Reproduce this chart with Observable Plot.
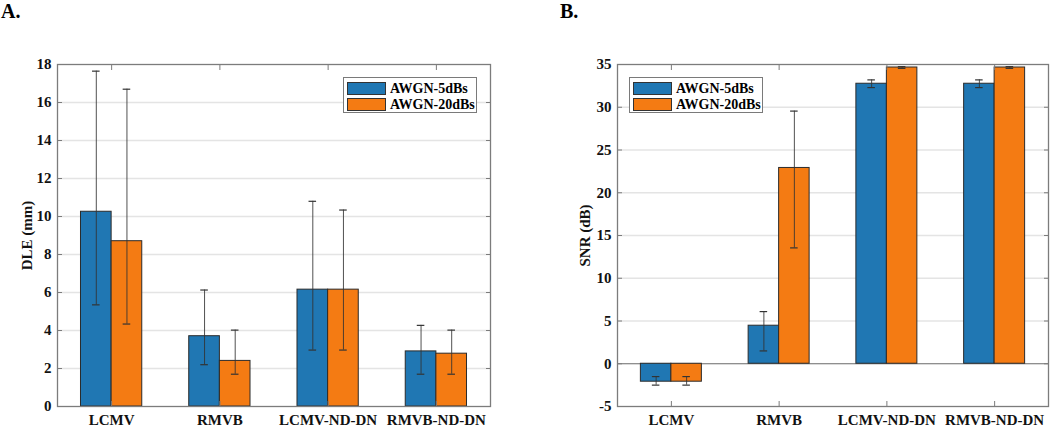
<!DOCTYPE html>
<html>
<head>
<meta charset="utf-8">
<script src="https://cdn.jsdelivr.net/npm/d3@7"></script>
<script src="https://cdn.jsdelivr.net/npm/@observablehq/plot@0.6"></script>
<style>
  body { margin: 0; background: #fff; }
  #wrap { position: relative; width: 1050px; height: 427px; font-family: "Liberation Serif", "Times New Roman", serif; font-weight: bold; }
  .panel { position: absolute; top: 0; }
  .head { position: absolute; top: 0px; font-size: 20px; line-height: 22px; font-weight: bold; }
  .legend { position: absolute; background: #fff; border: 1px solid #7a7a7a; box-sizing: border-box; padding: 2px 3px; font-size: 14px; white-space: nowrap; }
  .legend .row { display: flex; align-items: center; height: 15px; margin: 1px 0; }
  .legend .sw { width: 39px; height: 13px; border: 1px solid #333; box-sizing: border-box; margin-right: 4px; flex: none; }
</style>
</head>
<body>
<div id="wrap"></div>
<script>
const categories = ["LCMV", "RMVB", "LCMV-ND-DN", "RMVB-ND-DN"];
const series = ["AWGN-5dBs", "AWGN-20dBs"];
const colors = ["#2077b3", "#f47b13"];

// Panel A: DLE (mm)
const dleMean5  = [10.25, 3.70, 6.15, 2.90];
const dleLow5   = [5.35, 2.20, 2.97, 1.70];
const dleHigh5  = [17.65, 6.13, 10.80, 4.27];
const dleMean20 = [8.70, 2.40, 6.15, 2.78];
const dleLow20  = [4.34, 1.70, 2.97, 1.70];
const dleHigh20 = [16.70, 4.02, 10.34, 4.02];
const dleTicks = [0, 2, 4, 6, 8, 10, 12, 14, 16, 18];

// Panel B: SNR (dB)
const snrMean5  = [-2.10, 4.45, 32.75, 32.75];
const snrLow5   = [-2.50, 1.50, 32.30, 32.30];
const snrHigh5  = [-1.50, 6.10, 33.20, 33.20];
const snrMean20 = [-2.10, 22.90, 34.65, 34.65];
const snrLow20  = [-2.50, 13.55, 34.55, 34.55];
const snrHigh20 = [-1.50, 29.55, 34.75, 34.75];
const snrTicks = [-5, 0, 5, 10, 15, 20, 25, 30, 35];

const half = 0.1415, cap = 0.035;

function rowsFor(m5, l5, h5, m20, l20, h20) {
  const rows = [];
  categories.forEach((c, i) => {
    rows.push({cat: c, series: series[0], x: i + 1 - half, mean: m5[i], lo: l5[i], hi: h5[i]});
    rows.push({cat: c, series: series[1], x: i + 1 + half, mean: m20[i], lo: l20[i], hi: h20[i]});
  });
  return rows;
}

function panel(rows, {width, marginLeft, marginRight, yDomain, yTicks, yLabel, labelOffset, gridTicks, zeroLine}) {
  const fam = "Liberation Serif";
  return Plot.plot({
    width, height: 427,
    marginLeft, marginRight, marginTop: 64, marginBottom: 21,
    style: {fontFamily: fam, fontWeight: "bold", fontSize: "15px", color: "#111", background: "#fff"},
    x: {type: "linear", domain: [0.5, 4.5]},
    y: {domain: yDomain},
    color: {domain: series, range: colors},
    marks: [
      Plot.gridY(gridTicks, {stroke: "#e4e4e4", strokeOpacity: 1, strokeWidth: 1.5}),
      zeroLine ? Plot.ruleY([0], {stroke: "#6a6a6a", strokeWidth: 1.2}) : null,
      Plot.rectY(rows, {x1: d => d.x - half, x2: d => d.x + half, y1: 0, y2: "mean", fill: "series", stroke: "#2b2b2b", strokeWidth: 1}),
      Plot.ruleX(rows, {x: "x", y1: "lo", y2: "hi", stroke: "#333", strokeWidth: 1, strokeOpacity: 0.85}),
      Plot.ruleY(rows, {y: "lo", x1: d => d.x - cap, x2: d => d.x + cap, stroke: "#333", strokeWidth: 1.2}),
      Plot.ruleY(rows, {y: "hi", x1: d => d.x - cap, x2: d => d.x + cap, stroke: "#333", strokeWidth: 1.2}),
      Plot.frame({stroke: "#7c7c7c", strokeWidth: 1.3}),
      Plot.axisY({anchor: "left", ticks: yTicks, tickSize: -5, tickPadding: 11, stroke: "#7c7c7c",
        tickFormat: d => String(d),
        label: yLabel, labelAnchor: "center", labelArrow: "none", labelOffset, fontSize: 15}),
      Plot.axisY({anchor: "right", ticks: yTicks, tickSize: -5, tickFormat: () => "", label: null, stroke: "#7c7c7c"}),
      Plot.axisX({anchor: "bottom", ticks: [1, 2, 3, 4], tickSize: -5, tickPadding: 13, stroke: "#7c7c7c",
        tickFormat: i => categories[i - 1], label: null, fontSize: 15}),
      Plot.axisX({anchor: "top", ticks: [1, 2, 3, 4], tickSize: -5, tickFormat: () => "", label: null, stroke: "#7c7c7c"})
    ]
  });
}

const wrap = document.getElementById("wrap");

const rowsA = rowsFor(dleMean5, dleLow5, dleHigh5, dleMean20, dleLow20, dleHigh20);
const rowsB = rowsFor(snrMean5, snrLow5, snrHigh5, snrMean20, snrLow20, snrHigh20);

const plotA = panel(rowsA, {width: 520, marginLeft: 57, marginRight: 30, yDomain: [0, 18], yTicks: dleTicks,
  yLabel: "DLE (mm)", labelOffset: 36, gridTicks: dleTicks.filter(t => t > 0 && t < 18), zeroLine: false});
const plotB = panel(rowsB, {width: 530, marginLeft: 97, marginRight: 2, yDomain: [-5, 35], yTicks: snrTicks,
  yLabel: "SNR (dB)", labelOffset: 38, gridTicks: snrTicks.filter(t => t > -5 && t < 35 && t !== 0), zeroLine: true});

function place(el, left) {
  const d = document.createElement("div");
  d.className = "panel";
  d.style.left = left + "px";
  d.appendChild(el);
  wrap.appendChild(d);
}
place(plotA, 0);
place(plotB, 520);

function heading(text, left) {
  const h = document.createElement("div");
  h.className = "head";
  h.style.left = left + "px";
  h.textContent = text;
  wrap.appendChild(h);
}
heading("A.", 1);
heading("B.", 560);

function legend(left, top) {
  const L = document.createElement("div");
  L.className = "legend";
  L.style.left = left + "px";
  L.style.top = top + "px";
  L.style.width = "134px";
  L.style.height = "36px";
  series.forEach((s, i) => {
    const r = document.createElement("div");
    r.className = "row";
    const sw = document.createElement("div");
    sw.className = "sw";
    sw.style.background = colors[i];
    const t = document.createElement("span");
    t.textContent = s;
    r.appendChild(sw);
    r.appendChild(t);
    L.appendChild(r);
  });
  wrap.appendChild(L);
}
legend(343, 77);
legend(629, 77);
</script>
</body>
</html>
